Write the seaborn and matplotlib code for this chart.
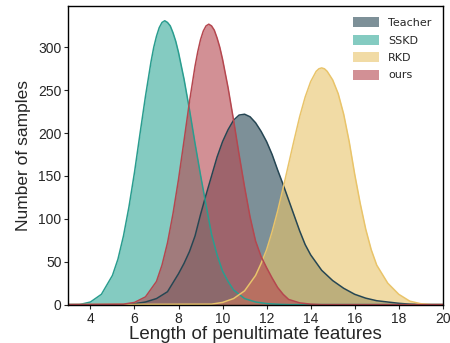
import pandas as pd
import matplotlib
matplotlib.use('Agg')
import matplotlib.pyplot as plt
import matplotlib.patches as mpatches
import seaborn as sns

# curve values (x = feature length, y = number of samples)
teacher_x = [3.0, 5.5, 6.0, 6.5, 7.0, 7.5, 8.0, 8.25, 8.5, 8.75, 9.0, 9.25, 9.5, 9.75, 10.0, 10.25, 10.5, 10.75,
             11.0, 11.25, 11.5, 11.75, 12.0, 12.25, 12.5, 12.75, 13.0, 13.25, 13.5, 13.75, 14.0, 14.5, 15.0,
             15.5, 16.0, 16.5, 17.0, 17.5, 18.0, 18.5, 19.0, 20.0]
teacher_y = [0, 0, 1, 3, 7, 15, 36, 48, 62, 80, 105, 128, 150, 172, 190, 204, 215, 221,
             222, 219, 212, 202, 190, 175, 157, 140, 122, 104, 86, 70, 58, 40, 28,
             19, 12, 7.5, 4.5, 3, 1.5, 0.5, 0, 0]

sskd_x = [3.0, 3.5, 4.0, 4.5, 5.0, 5.25, 5.5, 5.75, 6.0, 6.25, 6.5, 6.75, 6.875, 7.0, 7.125, 7.25, 7.375,
          7.5, 7.625, 7.75, 7.875, 8.0, 8.25, 8.5, 8.75, 9.0, 9.25, 9.5, 9.75, 10.0, 10.25, 10.5,
          11.0, 11.5, 12.0, 12.5, 13.0, 20.0]
sskd_y = [0, 0, 3, 12, 34, 53, 80, 114, 154, 199, 243, 283, 300, 313, 323, 329, 331,
          329, 325, 317, 307, 294, 263, 227, 188, 151, 116, 82, 58, 39, 27, 17,
          7, 3, 1.2, 0.4, 0, 0]

rkd_x = [3.0, 9.5, 10.0, 10.5, 11.0, 11.5, 11.75, 12.0, 12.25, 12.5, 12.75, 13.0, 13.25, 13.5, 13.75, 14.0,
         14.25, 14.375, 14.5, 14.625, 14.75, 15.0, 15.25, 15.5, 15.75, 16.0, 16.25, 16.5, 16.75, 17.0,
         17.5, 18.0, 18.5, 19.0, 19.5, 20.0]
rkd_y = [0, 0.5, 2.5, 7, 16, 34, 48, 64, 85, 109, 136, 164, 192, 219, 242, 260,
         272, 275, 276, 275, 272, 262, 246, 222, 190, 152, 118, 88, 64, 46,
         25, 12, 4, 1, 0, 0]

ours_x = [3.0, 5.5, 6.0, 6.5, 7.0, 7.25, 7.5, 7.75, 8.0, 8.25, 8.5, 8.75, 8.875, 9.0, 9.125, 9.25, 9.375,
          9.5, 9.625, 9.75, 9.875, 10.0, 10.25, 10.5, 10.75, 11.0, 11.25, 11.5, 11.75, 12.0, 12.25,
          12.5, 12.75, 13.0, 13.5, 14.0, 14.5, 20.0]
ours_y = [0, 0.5, 2.5, 9, 27, 46, 72, 106, 146, 191, 237, 278, 295, 309, 319, 325, 327,
          325, 320, 311, 300, 286, 253, 215, 175, 137, 102, 74, 56, 43, 31,
          20, 12, 6, 2, 0.5, 0, 0]

names = ['Teacher', 'SSKD', 'RKD', 'ours']
line_colors = ['#264653', '#2a9d8f', '#e9c46a', '#b5474f']
fill_colors = ['#264653', '#33a999', '#e9c46a', '#b5474f']

series = {
    'Teacher': (teacher_x, teacher_y),
    'SSKD': (sskd_x, sskd_y),
    'RKD': (rkd_x, rkd_y),
    'ours': (ours_x, ours_y),
}
df = pd.concat([pd.DataFrame({'length': xs, 'count': ys, 'method': k}) for k, (xs, ys) in series.items()])

sns.set_style('ticks')
plt.rcParams['font.family'] = ['Liberation Sans', 'DejaVu Sans']

fig, ax = plt.subplots(figsize=(4.5, 3.43), dpi=100)
fig.subplots_adjust(left=0.152, right=0.984, bottom=0.112, top=0.982)

# fills first (legend order), outlines on top
for name, c in zip(names, fill_colors):
    sub = df[df['method'] == name]
    ax.fill_between(sub['length'], 0, sub['count'], color=c, alpha=0.6, lw=0)
sns.lineplot(data=df, x='length', y='count', hue='method', hue_order=names,
             palette=line_colors, lw=1.1, legend=False, ax=ax)

ax.set_xlim(3, 20)
ax.set_ylim(0, 348)
ax.set_xticks([4, 6, 8, 10, 12, 14, 16, 18, 20])
ax.set_yticks([0, 50, 100, 150, 200, 250, 300])
ax.tick_params(labelsize=10, length=3, width=0.8, pad=2)
ax.set_xlabel('Length of penultimate features', fontsize=13.5, labelpad=0)
ax.set_ylabel('Number of samples', fontsize=12.5, labelpad=5)
for s in ax.spines.values():
    s.set_color('black')
    s.set_linewidth(1)

handles = [mpatches.Patch(color=c, alpha=0.6, lw=0, label=n) for n, c in zip(names, fill_colors)]
ax.legend(handles=handles, loc='upper right', frameon=False,
          prop={'family': 'DejaVu Sans', 'size': 8}, handlelength=2.4, handleheight=1.0,
          labelspacing=0.6, borderaxespad=0.6)

fig.savefig('out.png', dpi=100)
